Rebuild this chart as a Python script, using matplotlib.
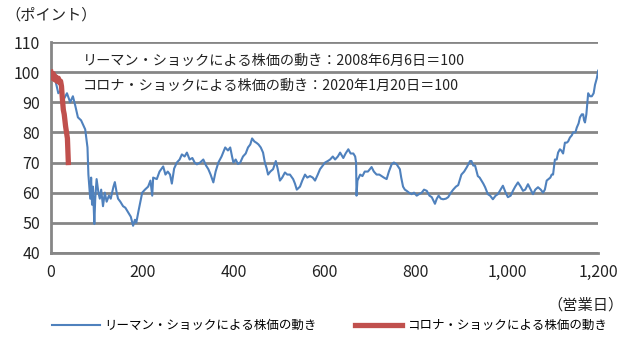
import matplotlib.pyplot as plt

plt.rcParams["font.family"] = ["Noto Sans CJK JP", "DejaVu Sans"]

# リーマン・ショック (2008/6/6 = 100)
lehman_days = [
    0, 5, 10, 16, 22, 28, 35, 42, 48, 53, 59, 66, 75, 80, 82, 84, 86, 88, 90, 92,
    95, 97, 100, 104, 107, 110, 114, 118, 122, 127, 131, 134, 137, 140, 144, 147,
    152, 158, 163, 169, 175, 180, 184, 187, 192, 196, 200, 206, 213, 218, 222, 224,
    232, 238, 246, 251, 256, 261, 265, 270, 276, 282, 287, 293, 298, 304, 310, 315,
    320, 327, 334, 340, 345, 350, 356, 361, 367, 374, 382, 388, 393, 397, 400, 405,
    410, 415, 421, 427, 432, 437, 441, 446, 451, 455, 460, 465, 469, 473, 476, 481,
    487, 493, 497, 502, 507, 513, 518, 524, 531, 535, 539, 546, 551, 557, 562, 568,
    574, 579, 585, 590, 596, 601, 607, 612, 618, 623, 629, 634, 641, 646, 652, 657,
    663, 667, 669, 670, 672, 678, 683, 688, 695, 703, 708, 714, 720, 725, 730, 736,
    741, 747, 752, 758, 765, 768, 772, 776, 780, 785, 791, 796, 802, 807, 813, 818,
    824, 830, 835, 842, 846, 850, 855, 860, 866, 871, 877, 882, 888, 893, 900, 906,
    912, 919, 922, 926, 930, 936, 940, 944, 948, 952, 958, 963, 969, 975, 980, 986,
    991, 997, 1002, 1008, 1013, 1018, 1024, 1030, 1035, 1040, 1046, 1052, 1057,
    1062, 1068, 1074, 1079, 1083, 1087, 1091, 1095, 1098, 1101, 1105, 1109, 1112,
    1116, 1119, 1123, 1127, 1131, 1134, 1138, 1142, 1145, 1150, 1153, 1157, 1160,
    1164, 1167, 1169, 1171, 1174, 1178, 1182, 1186, 1190, 1193, 1197, 1200,
]
lehman_values = [
    100, 99, 97, 93, 94, 91, 93, 90, 92, 89, 85, 84, 81, 75, 66, 62, 58, 65, 56, 62,
    49.6, 58, 64.5, 60, 58, 61, 55.5, 60, 57, 59, 58, 60, 62, 63.5, 60, 58,
    57, 55.5, 55, 53.5, 52, 49, 51, 50, 54, 57, 60, 61, 62, 64, 59, 65,
    64.5, 67, 68.7, 66, 67, 66, 63, 68, 70, 71, 72.7, 72, 73.3, 71, 71.5, 70,
    69.4, 70, 71, 69, 67.8, 66, 63.4, 67, 70, 72, 75, 74, 75, 72, 70, 71,
    69.5, 70, 72, 73, 75, 76, 78, 77, 76.5, 76, 75, 73.3, 70, 68, 66, 67,
    67.8, 70.5, 68, 64, 65, 66.7, 66, 66, 64.5, 63, 61, 62, 64, 66, 65, 65.5,
    65, 64, 66, 67.8, 69, 70, 70.5, 71, 72, 71, 72, 73.3, 71.5, 73, 74.4, 73,
    73, 72, 70, 59, 64, 66, 65.5, 67, 67, 68.5, 67, 66, 66, 65.5, 65, 64.5,
    67, 69.4, 70, 69.4, 67.8, 65, 62, 61, 60.6, 60, 59.5, 60, 59, 59.5, 60, 61,
    60.6, 59, 58.5, 56.3, 58, 59, 58, 57.8, 58, 58.5, 60, 61, 62, 62.5, 66, 67,
    68.5, 70.5, 70.5, 69, 69, 65.5, 65, 64, 63, 61.8, 59.5, 59, 57.8, 59, 59.5, 61,
    62.3, 60, 58.5, 59, 60.6, 62, 63.4, 62, 60.6, 61, 62.8, 61, 59.5,
    61, 61.8, 61, 60, 61, 64, 64.5, 65, 66, 66, 71, 71, 73.3,
    74.4, 74, 73, 76.6, 76.6, 77, 78.3, 79, 80, 80, 81.6, 83, 85,
    86, 86, 84, 83.3, 86, 93, 92, 92, 93, 95.8, 98, 100.5,
]

# コロナ・ショック (2020/1/20 = 100)
corona_days = [0, 3, 5, 8, 10, 13, 16, 19, 21, 23, 25, 27, 29, 32, 34, 36, 37, 38]
corona_values = [100, 98, 99.5, 97.5, 98.5, 97, 98, 96.5, 97, 95.3, 91, 87.5, 86,
                 82, 80, 78, 74, 70]

x_ticks = [0, 200, 400, 600, 800, 1000, 1200]
x_tick_labels = ["0", "200", "400", "600", "800", "1,000", "1,200"]
y_ticks = [40, 50, 60, 70, 80, 90, 100, 110]

fig = plt.figure(figsize=(6.4, 3.39), dpi=100)
ax = fig.add_axes([0.0797, 0.254, 0.855, 0.622])

ax.plot(lehman_days, lehman_values, color="#4F81BD", linewidth=1.5,
        label="リーマン・ショックによる株価の動き", zorder=3)
ax.plot(corona_days, corona_values, color="#C0504D", linewidth=3.8,
        label="コロナ・ショックによる株価の動き", zorder=4)

ax.set_xlim(0, 1200)
ax.set_ylim(40, 110)
ax.set_xticks(x_ticks)
ax.set_xticklabels(x_tick_labels)
ax.set_yticks(y_ticks)
ax.tick_params(length=0, labelsize=11.5, pad=8, colors="#222222")
ax.grid(axis="y", color="#868686", linewidth=2)
ax.set_axisbelow(True)
for side in ["top", "right"]:
    ax.spines[side].set_visible(False)
for side in ["left", "bottom"]:
    ax.spines[side].set_color("#868686")
    ax.spines[side].set_linewidth(2)

ax.text(70, 103.6, "リーマン・ショックによる株価の動き：2008年6月6日＝100",
        fontsize=10.2, va="center", color="#222222")
ax.text(70, 95.3, "コロナ・ショックによる株価の動き：2020年1月20日＝100",
        fontsize=10.2, va="center", color="#222222")

fig.text(0.008, 0.955, "（ポイント）", fontsize=11, va="center", color="#222222")
fig.text(0.975, 0.10, "（営業日）", fontsize=11, va="center", ha="right", color="#222222")

fig.legend(loc="center", bbox_to_anchor=(0.515, 0.04), ncol=2, frameon=False,
           fontsize=9, handlelength=3.8, columnspacing=3.0, handletextpad=0.4)

fig.savefig("out.png", dpi=100)
